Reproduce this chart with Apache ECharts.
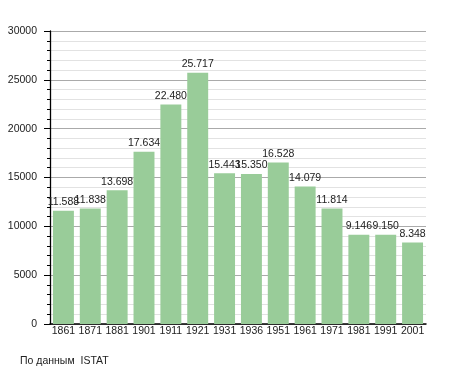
<!DOCTYPE html>
<html><head><meta charset="utf-8">
<script src="https://cdn.jsdelivr.net/npm/echarts@6/dist/echarts.min.js"></script>
<style>html,body{margin:0;padding:0;background:#fff}#c{width:455px;height:373px}</style>
</head><body><div id="c"></div>
<script>
const years = ['1861','1871','1881','1901','1911','1921','1931','1936','1951','1961','1971','1981','1991','2001'];
const population = [11588,11838,13698,17634,22480,25717,15443,15350,16528,14079,11814,9146,9150,8348];
const yTicks = [0,5000,10000,15000,20000,25000,30000];
const footer = 'По данным  ISTAT';

function fmt(v){return String(v).replace(/\B(?=(\d{3})+(?!\d))/g,'.');}

const chart = echarts.init(document.getElementById('c'));
chart.setOption({
  animation:false,
  textStyle:{fontFamily:'Liberation Sans'},
  grid:{left:50,right:29,top:31,bottom:49,containLabel:false},
  xAxis:{type:'category',data:years,
    axisLine:{lineStyle:{color:'#000',width:1.5}},
    axisTick:{show:false},
    axisLabel:{color:'#222',fontSize:10.5,margin:2,interval:0}},
  yAxis:{type:'value',min:yTicks[0],max:yTicks[yTicks.length-1],interval:5000,
    axisLine:{show:true,lineStyle:{color:'#000',width:1.3}},
    axisTick:{show:true,length:6,lineStyle:{color:'#000'}},
    minorTick:{show:true,splitNumber:5,length:3,lineStyle:{color:'#000'}},
    splitLine:{lineStyle:{color:'#aaa'}},
    minorSplitLine:{show:true,lineStyle:{color:'#e2e2e2'}},
    axisLabel:{color:'#222',fontSize:10.5,margin:13,formatter:v=>String(v)}},
  series:[{type:'bar',data:population,barCategoryGap:'22%',
    itemStyle:{color:'#99cc99'},
    label:{show:true,position:'top',color:'#222',fontSize:10.5,distance:3,formatter:p=>fmt(p.value)}}],
  graphic:[{type:'text',left:20,top:356,style:{text:footer,fill:'#222',font:'10.5px Liberation Sans'}}]
});
</script></body></html>
